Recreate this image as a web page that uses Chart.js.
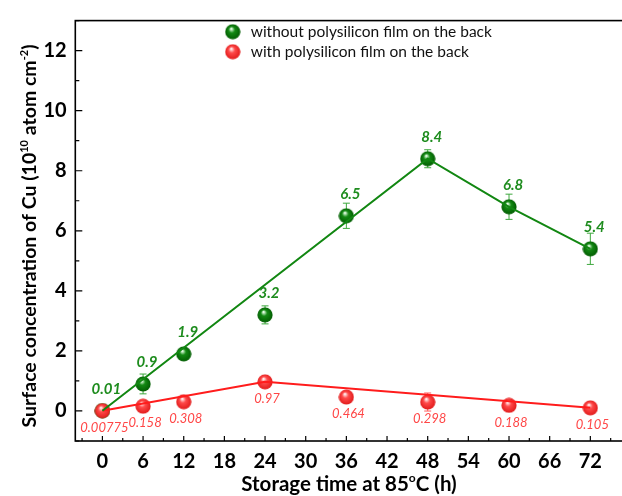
<!DOCTYPE html>
<html>
<head>
<meta charset="utf-8">
<script src="https://cdn.jsdelivr.net/npm/chart.js@4/dist/chart.umd.min.js"></script>
<style>
  html, body { margin:0; padding:0; background:#fff; overflow:hidden; width:622px; height:496px; }
  canvas { display:block; }
</style>
</head>
<body>
<canvas id="chart" width="640" height="496"></canvas>
<script>
// ---------- data ----------
const times = [0, 6, 12, 24, 36, 48, 60, 72];
const withoutFilm = [0.01, 0.9, 1.9, 3.2, 6.5, 8.4, 6.8, 5.4];
const withoutErr  = [0.05, 0.33, 0.12, 0.3, 0.42, 0.3, 0.42, 0.52];
const withFilm = [0.00775, 0.158, 0.308, 0.97, 0.464, 0.298, 0.188, 0.105];
const withErr  = [0.03, 0.05, 0.06, 0.1, 0.1, 0.3, 0.08, 0.15];
const withoutLabels = ["0.01", "0.9", "1.9", "3.2", "6.5", "8.4", "6.8", "5.4"];
const withLabels = ["0.00775", "0.158", "0.308", "0.97", "0.464", "0.298", "0.188", "0.105"];
// guide lines drawn in the figure (not through every point)
const withoutLineX = [0, 48, 60, 72];
const withoutLineY = [0.01, 8.4, 6.8, 5.4];
const withLineX = [0, 24, 72];
const withLineY = [0.00775, 0.97, 0.105];
const xTicks = [0, 6, 12, 18, 24, 30, 36, 42, 48, 54, 60, 66, 72];
const yTicks = [0, 2, 4, 6, 8, 10, 12];
const legendNames = ["without polysilicon film on the back", "with polysilicon film on the back"];

const GREEN = "#128712", RED = "#ff1c1c";
const FONT = "Lato";

function pts(xs, ys){ return xs.map((x,i)=>({ x, y: ys[i] })); }

// little shaded ball used as point style
function sphere(base, dark, light){
  const c = document.createElement("canvas");
  c.width = 16; c.height = 16;
  const g = c.getContext("2d");
  const grad = g.createRadialGradient(6.5, 5, 0.5, 8, 8, 8);
  grad.addColorStop(0, light);
  grad.addColorStop(0.35, base);
  grad.addColorStop(1, dark);
  g.fillStyle = grad;
  g.beginPath(); g.arc(8, 8, 7.6, 0, Math.PI*2); g.fill();
  return c;
}
const greenBall = sphere("#148a14", "#005a00", "#e8ffe8");
const redBall = sphere("#ff4a4a", "#e01818", "#fff0f0");

// ---------- plugins ----------
const errorBars = {
  id: "errorBars",
  beforeDatasetsDraw(chart){
    const ctx = chart.ctx, xs = chart.scales.x, ys = chart.scales.y;
    const sets = [[withoutFilm, withoutErr, "#3ea83e"], [withFilm, withErr, "#ff5a5a"]];
    ctx.save();
    ctx.lineWidth = 1;
    sets.forEach(([vals, errs, col])=>{
      ctx.strokeStyle = col;
      vals.forEach((v,i)=>{
        const px = xs.getPixelForValue(times[i]);
        const top = ys.getPixelForValue(v + errs[i]);
        const bot = ys.getPixelForValue(v - errs[i]);
        ctx.beginPath();
        ctx.moveTo(px, top); ctx.lineTo(px, bot);
        ctx.moveTo(px-3.5, top); ctx.lineTo(px+3.5, top);
        ctx.moveTo(px-3.5, bot); ctx.lineTo(px+3.5, bot);
        ctx.stroke();
      });
    });
    ctx.restore();
  }
};

function richText(ctx, parts, x, y, size, supSize){
  let w = 0;
  parts.forEach(p=>{
    ctx.font = "bold " + (p.sup ? supSize : size) + "px " + FONT;
    p.w = ctx.measureText(p.t).width; w += p.w;
  });
  let cx = x - w/2;
  ctx.textBaseline = "alphabetic";
  ctx.textAlign = "left";
  parts.forEach(p=>{
    ctx.font = "bold " + (p.sup ? supSize : size) + "px " + FONT;
    ctx.fillText(p.t, cx, p.sup ? y - size*0.42 : y);
    cx += p.w;
  });
}

const decor = {
  id: "decor",
  beforeDatasetsDraw(chart){
    const ctx = chart.ctx, a = chart.chartArea, xs = chart.scales.x, ys = chart.scales.y;
    ctx.save();
    ctx.strokeStyle = "#000";
    ctx.lineWidth = 1.6;
    ctx.strokeRect(a.left, a.top, a.right - a.left, a.bottom - a.top);
    ctx.lineWidth = 1.2;
    ctx.beginPath();
    for(let v = -3; v <= 78; v += 3){
      const px = xs.getPixelForValue(v);
      const len = (v % 6 === 0) ? 5 : 3;
      ctx.moveTo(px, a.bottom); ctx.lineTo(px, a.bottom - len);
    }
    for(let v = -1; v <= 13; v += 1){
      const py = ys.getPixelForValue(v);
      const len = (v % 2 === 0) ? 7 : 4;
      ctx.moveTo(a.left, py); ctx.lineTo(a.left + len, py);
    }
    ctx.stroke();
    ctx.restore();
  },
  afterDraw(chart){
    const ctx = chart.ctx, xs = chart.scales.x, ys = chart.scales.y;
    ctx.save();
    // value labels
    ctx.textAlign = "center"; ctx.textBaseline = "middle";
    ctx.fillStyle = "#1e8c1e";
    ctx.font = "italic bold 15px " + FONT;
    withoutLabels.forEach((t,i)=>{
      ctx.fillText(t, xs.getPixelForValue(times[i]) + 4, ys.getPixelForValue(withoutFilm[i]) - 22);
    });
    ctx.fillStyle = "#ff4646";
    ctx.font = "italic 13px " + FONT;
    withLabels.forEach((t,i)=>{
      ctx.fillText(t, xs.getPixelForValue(times[i]) + 2, ys.getPixelForValue(withFilm[i]) + 17);
    });
    // legend
    ctx.drawImage(greenBall, 232.7 - 8, 31.7 - 8);
    ctx.drawImage(redBall, 232.7 - 8, 51.7 - 8);
    ctx.fillStyle = "#111";
    ctx.textAlign = "left";
    ctx.font = "15.5px " + FONT;
    ctx.fillText(legendNames[0], 250.7, 32);
    ctx.fillText(legendNames[1], 250.7, 52);
    // axis titles
    ctx.fillStyle = "#000";
    richText(ctx, [{t:"Storage time at 85"}, {t:"o", sup:true}, {t:"C (h)"}], 349, 491, 20.5, 12);
    ctx.translate(36, 236);
    ctx.rotate(-Math.PI/2);
    richText(ctx, [{t:"Surface concentration of Cu (10"}, {t:"10", sup:true}, {t:" atom cm"}, {t:"-2", sup:true}, {t:")"}], 0, 0, 19.5, 11);
    ctx.restore();
  }
};

const tickFont = { family: FONT, size: 20, weight: "bold" };

new Chart(document.getElementById("chart"), {
  type: "scatter",
  data: {
    datasets: [
      { label: legendNames[0] + " line", type: "line", data: pts(withoutLineX, withoutLineY), borderColor: GREEN, borderWidth: 2, pointRadius: 0, fill: false, order: 1 },
      { label: legendNames[1] + " line", type: "line", data: pts(withLineX, withLineY), borderColor: RED, borderWidth: 2, pointRadius: 0, fill: false, order: 2 },
      { label: legendNames[1], data: pts(times, withFilm), pointStyle: redBall, pointRadius: 8, order: 3 },
      { label: legendNames[0], data: pts(times, withoutFilm), pointStyle: greenBall, pointRadius: 8, order: 4 }
    ]
  },
  options: {
    responsive: false,
    animation: false,
    layout: { padding: { top: 10.7, right: 2, left: 0, bottom: 0 } },
    plugins: { legend: { display: false }, tooltip: { enabled: false } },
    scales: {
      x: {
        type: "linear", min: -4, max: 78,
        grid: { display: false, drawTicks: false },
        border: { display: false },
        ticks: { font: tickFont, color: "#000", padding: 9, maxRotation: 0 },
        afterBuildTicks: s => { s.ticks = xTicks.map(v => ({ value: v })); },
        afterFit: s => { s.height = 55; }
      },
      y: {
        type: "linear", min: -1, max: 13,
        grid: { display: false, drawTicks: false },
        border: { display: false },
        ticks: { font: tickFont, color: "#000", padding: 8.6 },
        afterBuildTicks: s => { s.ticks = yTicks.map(v => ({ value: v })); },
        afterFit: s => { s.width = 75.3; }
      }
    }
  },
  plugins: [errorBars, decor]
});
</script>
</body>
</html>
